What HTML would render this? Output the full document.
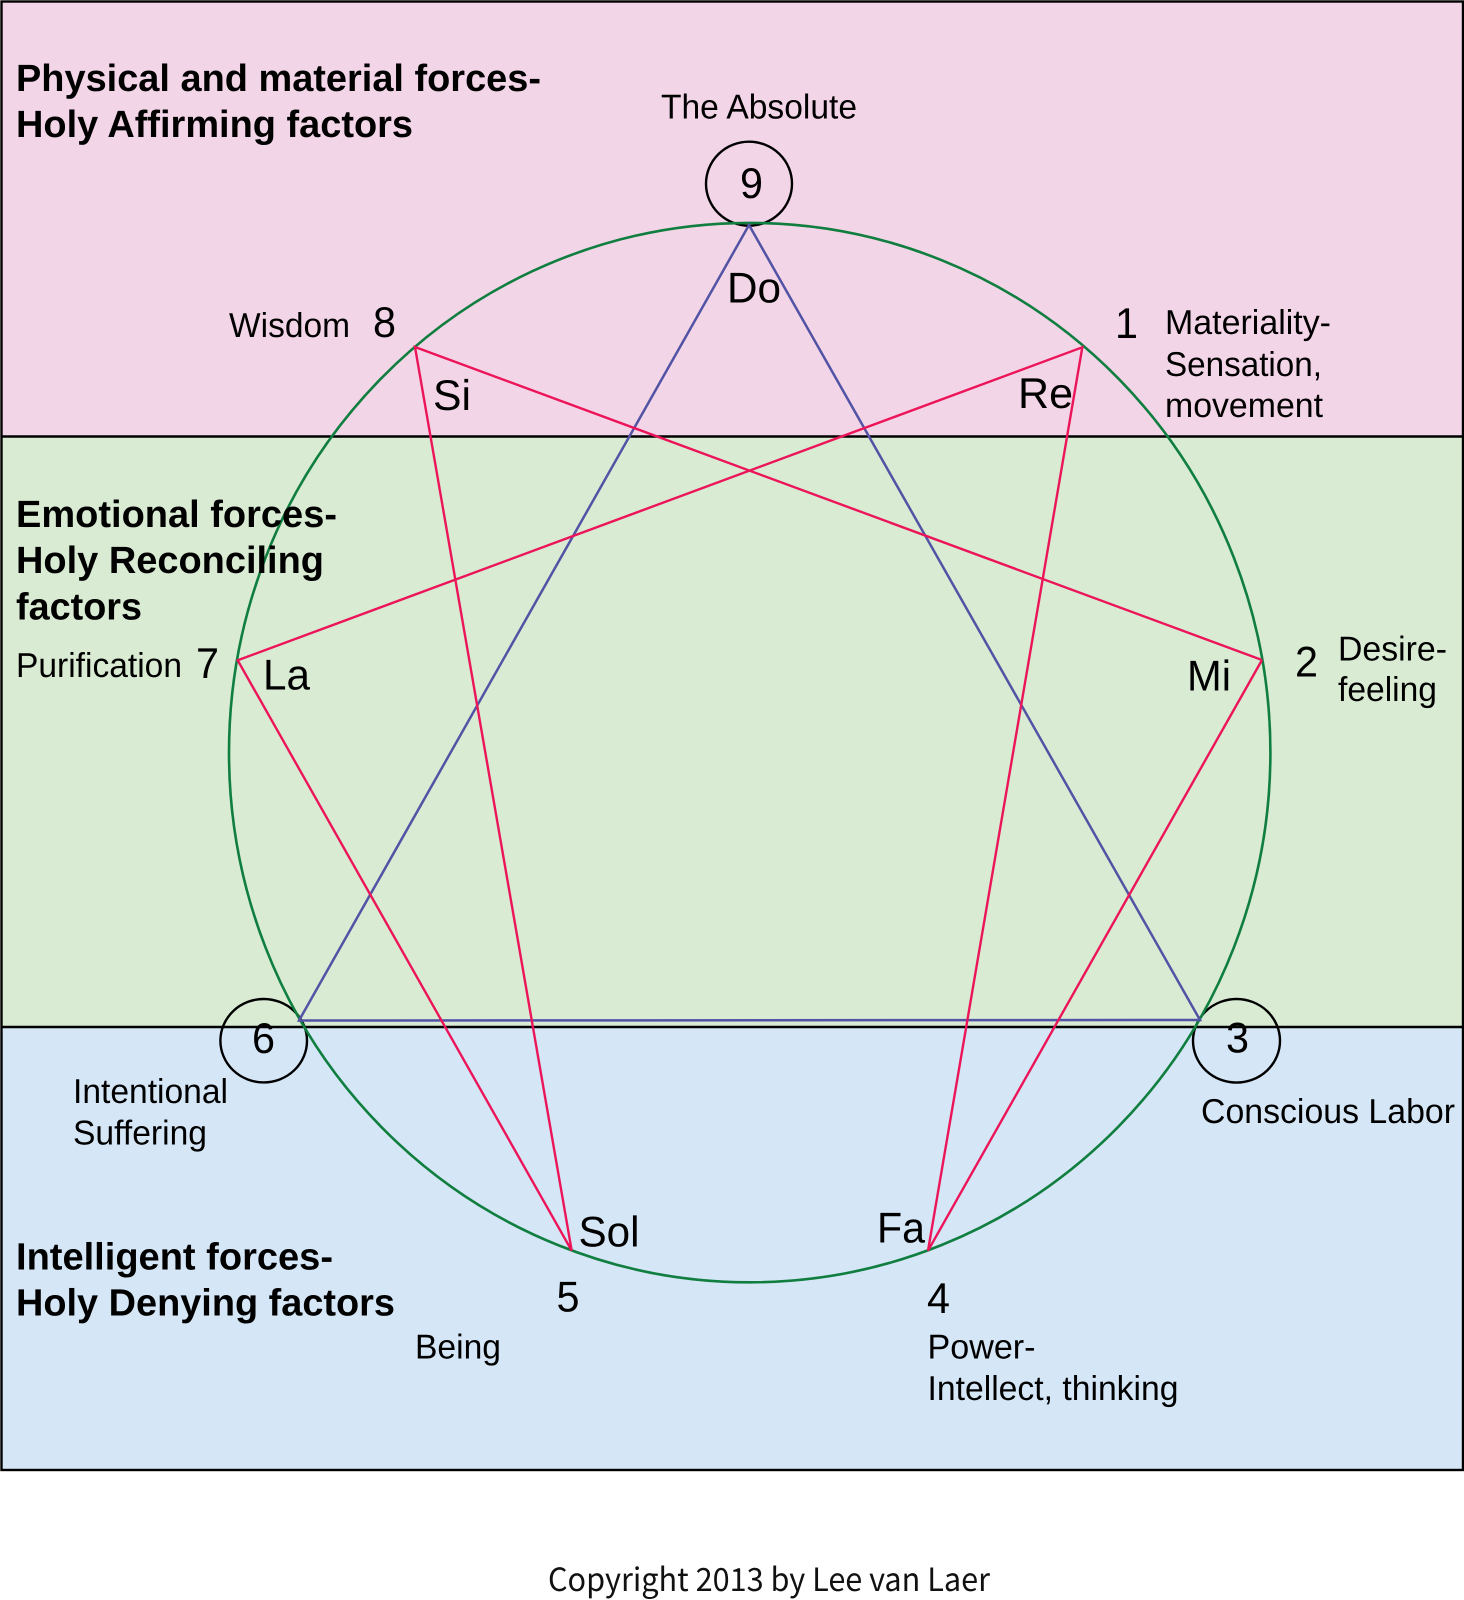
<!DOCTYPE html>
<html>
<head>
<meta charset="utf-8">
<style>
html,body{margin:0;padding:0;background:#fff}
svg{display:block}
text{font-family:"Liberation Sans",Arial,sans-serif;fill:#000;text-rendering:geometricPrecision}
.b{font-weight:bold;font-size:38px}
.l{font-size:34.5px}
.n{font-size:43px}
.c{font-family:"Noto Sans CJK SC","Liberation Sans",sans-serif;font-size:32px;fill:#111}
</style>
</head>
<body>
<svg xmlns="http://www.w3.org/2000/svg" width="1464" height="1600" viewBox="0 0 1464 1600">
<rect width="1464" height="1600" fill="#fff"/>
<rect x="1.5" y="1.5" width="1461.5" height="435" fill="#F3D5E8"/>
<rect x="1.5" y="436.5" width="1461.5" height="590.5" fill="#D9EBD3"/>
<rect x="1.5" y="1027" width="1461.5" height="443" fill="#D5E6F6"/>
<g fill="none" stroke="#000" stroke-width="2.4">
<rect x="1.5" y="1.5" width="1461.5" height="1468.5"/>
<line x1="1.5" y1="436.5" x2="1463" y2="436.5"/>
<line x1="1.5" y1="1027" x2="1463" y2="1027"/>
<ellipse cx="749" cy="183.7" rx="43" ry="42"/>
<ellipse cx="263.7" cy="1040.7" rx="43.3" ry="41.7"/>
<ellipse cx="1236.5" cy="1040.8" rx="43.5" ry="41.8"/>
</g>
<ellipse cx="749.7" cy="752.6" rx="520.7" ry="529.7" fill="none" stroke="#0F7E3F" stroke-width="2.6"/>
<polygon points="749,225 1200,1020 299,1020.5" fill="none" stroke="#5253A4" stroke-width="2.5" stroke-linejoin="miter"/>
<g fill="none" stroke="#EC1559" stroke-width="2.4">
<polyline points="1262,660 415,347 571.7,1250.7 237.7,660.3 1082.3,347.3 928,1250.7 1262,660" stroke-linejoin="miter"/>
</g>

<text class="b" x="16" y="91.2" textLength="525" lengthAdjust="spacingAndGlyphs">Physical and material forces-</text>
<text class="b" x="16" y="137.2" textLength="397" lengthAdjust="spacingAndGlyphs">Holy Affirming factors</text>
<text class="b" x="16" y="527" textLength="321" lengthAdjust="spacingAndGlyphs">Emotional forces-</text>
<text class="b" x="16" y="573" textLength="308" lengthAdjust="spacingAndGlyphs">Holy Reconciling</text>
<text class="b" x="16" y="619.3" textLength="126" lengthAdjust="spacingAndGlyphs">factors</text>
<text class="b" x="16" y="1269.5" textLength="317" lengthAdjust="spacingAndGlyphs">Intelligent forces-</text>
<text class="b" x="16" y="1315.5" textLength="379" lengthAdjust="spacingAndGlyphs">Holy Denying factors</text>

<text class="l" x="661" y="118.5" textLength="196" lengthAdjust="spacingAndGlyphs">The Absolute</text>
<text class="l" x="229" y="337" textLength="121" lengthAdjust="spacingAndGlyphs">Wisdom</text>
<text class="l" x="1165" y="334" textLength="166" lengthAdjust="spacingAndGlyphs">Materiality-</text>
<text class="l" x="1165" y="376" textLength="157" lengthAdjust="spacingAndGlyphs">Sensation,</text>
<text class="l" x="1165" y="417" textLength="158" lengthAdjust="spacingAndGlyphs">movement</text>
<text class="l" x="16" y="677" textLength="166" lengthAdjust="spacingAndGlyphs">Purification</text>
<text class="l" x="1338" y="660.5" textLength="109" lengthAdjust="spacingAndGlyphs">Desire-</text>
<text class="l" x="1338" y="701" textLength="99" lengthAdjust="spacingAndGlyphs">feeling</text>
<text class="l" x="1201" y="1123" textLength="254" lengthAdjust="spacingAndGlyphs">Conscious Labor</text>
<text class="l" x="73" y="1103" textLength="155" lengthAdjust="spacingAndGlyphs">Intentional</text>
<text class="l" x="73" y="1144.3" textLength="134" lengthAdjust="spacingAndGlyphs">Suffering</text>
<text class="l" x="415" y="1358.5" textLength="86" lengthAdjust="spacingAndGlyphs">Being</text>
<text class="l" x="927.5" y="1358.5" textLength="108" lengthAdjust="spacingAndGlyphs">Power-</text>
<text class="l" x="927.5" y="1400" textLength="251" lengthAdjust="spacingAndGlyphs">Intellect, thinking</text>

<text class="n" x="740" y="198" textLength="23" lengthAdjust="spacingAndGlyphs">9</text>
<text class="n" x="727" y="302.7" textLength="54" lengthAdjust="spacingAndGlyphs">Do</text>
<text class="n" x="373" y="337" textLength="23" lengthAdjust="spacingAndGlyphs">8</text>
<text class="n" x="433" y="410" textLength="38" lengthAdjust="spacingAndGlyphs">Si</text>
<text class="n" x="1115" y="338" textLength="23" lengthAdjust="spacingAndGlyphs">1</text>
<text class="n" x="1018" y="408" textLength="55" lengthAdjust="spacingAndGlyphs">Re</text>
<text class="n" x="196" y="678" textLength="23" lengthAdjust="spacingAndGlyphs">7</text>
<text class="n" x="263" y="689.3" textLength="47" lengthAdjust="spacingAndGlyphs">La</text>
<text class="n" x="1187" y="690.7" textLength="44" lengthAdjust="spacingAndGlyphs">Mi</text>
<text class="n" x="1295" y="676.7" textLength="23" lengthAdjust="spacingAndGlyphs">2</text>
<text class="n" x="1226" y="1052.7" textLength="23" lengthAdjust="spacingAndGlyphs">3</text>
<text class="n" x="252" y="1053" textLength="23" lengthAdjust="spacingAndGlyphs">6</text>
<text class="n" x="578.5" y="1246.7" textLength="61" lengthAdjust="spacingAndGlyphs">Sol</text>
<text class="n" x="877" y="1242.7" textLength="48" lengthAdjust="spacingAndGlyphs">Fa</text>
<text class="n" x="556.5" y="1311.7" textLength="23" lengthAdjust="spacingAndGlyphs">5</text>
<text class="n" x="927" y="1313" textLength="23" lengthAdjust="spacingAndGlyphs">4</text>

<text class="c" x="548" y="1591" textLength="442" lengthAdjust="spacingAndGlyphs">Copyright 2013 by Lee van Laer</text>
</svg>
</body>
</html>
